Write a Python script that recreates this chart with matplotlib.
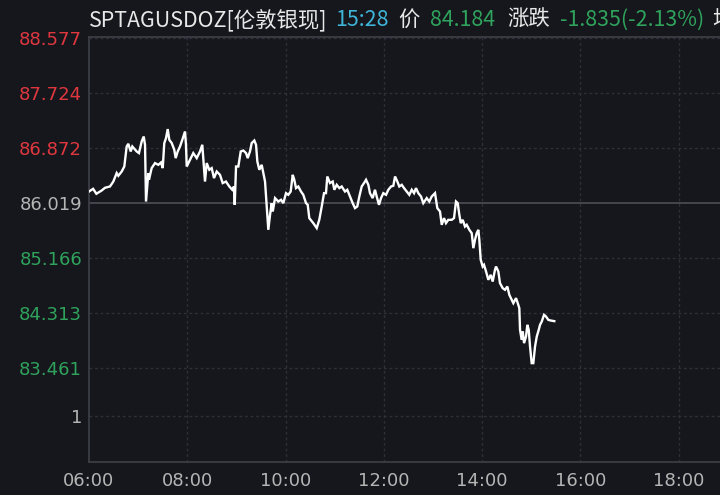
import matplotlib
matplotlib.use("Agg")
import matplotlib.pyplot as plt

plt.rcParams['font.family'] = ['DejaVu Sans', 'Noto Sans CJK SC']

# ---------------- data ----------------
# minutes after 06:00, price
minutes = [0, 5, 9, 15.5, 19.5, 25.6, 29.7, 33.8, 35.8, 39.9, 43.1, 46.0, 48.0, 50.9, 52.9,
           58.2, 61.0, 64.3, 66.8, 68.4, 69.6, 72.4, 73.2, 76.5, 80.6, 84.6, 87.9, 90.0, 91.9,
           94.0, 96.1, 98.0, 101.0, 104.1, 105.8, 108.3, 111.1, 113.9, 117.2, 118.4, 119.3,
           123.3, 127.3, 131.5, 135.5, 138.3, 141.6, 143.7, 146.9, 149.8, 152.6, 155.9, 159.9,
           163.2, 167.2, 171.3, 174.9, 177.0, 177.9, 179.5, 182.3, 185.2, 188.4, 191.7, 193.7,
           196.5, 198.6, 201.8, 203.9, 205.5, 207.9, 210.8, 212.8, 214.9, 216.1, 217.7, 218.9,
           221.0, 223.0, 224.3, 227.1, 231.1, 234.4, 237.2, 240.5, 243.3, 246.2, 248.7, 250.6,
           252.7, 255.5, 258.8, 261.6, 264.9, 267.0, 268.9, 273.8, 278.0, 281.1, 284.1, 286.9,
           289.3, 290.9, 294.2, 297.5, 299.5, 302.4, 305.6, 308.5, 312.5, 315.3, 318.6, 321.9,
           324.7, 327.5, 330.0, 332.9, 335.7, 338.2, 341.0, 343.0, 346.3, 349.1, 351.2, 354.0,
           356.5, 359.3, 362.6, 365.4, 368.7, 371.5, 373.6, 376.4, 378.8, 381.8, 384.6, 387.9,
           391.0, 394.0, 396.8, 399.2, 402.0, 405.3, 408.1, 412.3, 415.4, 418.4, 422.4, 425.2,
           428.5, 430.6, 433.4, 435.8, 438.6, 442.8, 445.6, 448.0, 450.1, 452.1, 453.8, 456.2,
           459.0, 461.1, 464.3, 467.2, 469.2, 471.2, 473.3, 475.3, 476.5, 478.2, 480.6, 482.2,
           484.7, 487.5, 490.4, 492.8, 495.6, 496.9, 499.7, 501.7, 505.0, 507.8, 510.7, 513.1,
           516.0, 518.0, 521.3, 523.4, 525.3, 526.2, 528.2, 529.5, 531.1, 533.5, 535.1, 536.8,
           538.4, 540.4, 542.4, 544.5, 546.6, 549.0, 550.6, 552.7, 555.5, 557.9, 560.7, 563.6,
           568.0]
prices = [86.194, 86.236, 86.159, 86.210, 86.252, 86.272, 86.349, 86.480, 86.438, 86.504,
          86.582, 86.892, 86.934, 86.815, 86.892, 86.815, 86.790, 86.970, 87.047, 86.919,
          86.039, 86.480, 86.376, 86.557, 86.635, 86.608, 86.644, 86.557, 86.945, 87.022,
          87.162, 86.996, 86.945, 86.841, 86.712, 86.815, 86.892, 86.996, 87.125, 86.919,
          86.582, 86.686, 86.790, 86.712, 86.815, 86.919, 86.349, 86.635, 86.531, 86.557,
          86.402, 86.504, 86.453, 86.325, 86.349, 86.272, 86.221, 86.272, 85.988, 86.582,
          86.582, 86.815, 86.830, 86.790, 86.712, 86.815, 86.945, 86.985, 86.919, 86.660,
          86.531, 86.608, 86.480, 86.349, 86.117, 85.833, 85.600, 85.833, 86.014, 85.884,
          86.092, 86.039, 86.066, 86.014, 86.169, 86.143, 86.194, 86.453, 86.376, 86.247,
          86.272, 86.194, 86.143, 86.014, 85.988, 85.782, 85.704, 85.627, 85.755, 85.962,
          86.169, 86.169, 86.427, 86.325, 86.349, 86.221, 86.298, 86.247, 86.272, 86.194,
          86.221, 86.117, 86.014, 85.937, 85.962, 86.117, 86.272, 86.325, 86.376, 86.298,
          86.169, 86.092, 86.221, 86.117, 85.988, 86.092, 86.169, 86.143, 86.221, 86.272,
          86.283, 86.427, 86.349, 86.272, 86.298, 86.247, 86.194, 86.143, 86.221, 86.169,
          86.247, 86.169, 86.117, 86.014, 86.092, 86.039, 86.117, 86.169, 85.937, 85.884,
          85.678, 85.782, 85.704, 85.755, 85.755, 85.782, 86.039, 86.014, 85.833, 85.704,
          85.755, 85.651, 85.678, 85.600, 85.549, 85.316, 85.445, 85.549, 85.600, 85.445,
          85.135, 85.031, 85.057, 84.954, 84.825, 84.902, 84.798, 84.980, 85.031, 84.954,
          84.774, 84.696, 84.670, 84.721, 84.592, 84.515, 84.463, 84.541, 84.463, 84.386,
          84.049, 83.894, 84.023, 83.843, 83.945, 84.127, 84.049, 83.790, 83.533, 83.533,
          83.790, 83.945, 84.049, 84.127, 84.178, 84.282, 84.256, 84.204, 84.194, 84.184]

prev_close = 86.019
ytick_values = [88.577, 87.724, 86.872, 86.019, 85.166, 84.313, 83.461, 82.716]
ytick_labels = ["88.577", "87.724", "86.872", "86.019", "85.166", "84.313", "83.461", "1"]
xtick_minutes = [0, 120, 240, 360, 480, 600, 720]
xtick_labels = ["06:00", "08:00", "10:00", "12:00", "14:00", "16:00", "18:00"]

title_parts = [("SPTAGUSDOZ[伦敦银现]", "#e8e8e8"), ("15:28", "#3fb4d8"), ("价", "#e8e8e8"),
               ("84.184", "#2fa35c"), ("涨跌", "#e8e8e8"), ("-1.835(-2.13%)", "#2fa35c"),
               ("均", "#e8e8e8")]
title_x_px = [89, 335, 398, 430, 507, 560, 712]

# ---------------- style ----------------
BG = "#15171c"
GRID = "#2d3038"
SPINE = "#3d4047"
RED = "#e0373f"
GREEN = "#2fa35c"
GREY = "#b5b5b5"

W, H = 720, 495
fig = plt.figure(figsize=(W / 100, H / 100), dpi=100, facecolor=BG)
ax = fig.add_axes([89 / W, (H - 462) / H, (W - 89) / W, (462 - 37) / H], facecolor=BG)

ax.set_xlim(0, 770.3)
ax.set_ylim(82.0, 88.59)

# grid
for v in ytick_values:
    if v == prev_close:
        ax.axhline(v, color="#474a52", lw=1.3, zorder=1)
    else:
        ax.axhline(v, color=GRID, lw=1.0, ls=(0, (2, 2)), zorder=1)
for m in xtick_minutes[1:]:
    ax.axvline(m, color=GRID, lw=1.0, ls=(0, (2, 2)), zorder=1)

ax.plot(minutes, prices, color="white", lw=1.7, zorder=3, solid_joinstyle="miter")

for s in ["left", "bottom", "top"]:
    ax.spines[s].set_color(SPINE)
    ax.spines[s].set_linewidth(1.2)
ax.spines["right"].set_visible(False)

ax.set_yticks(ytick_values)
ax.set_yticklabels(ytick_labels)
for lab, v in zip(ax.get_yticklabels(), ytick_values):
    if lab.get_text() == "1" or v == prev_close:
        lab.set_color(GREY)
    elif v > prev_close:
        lab.set_color(RED)
    else:
        lab.set_color(GREEN)
ax.set_xticks(xtick_minutes)
ax.set_xticklabels(xtick_labels, color=GREY)
ax.tick_params(axis="both", length=0, labelsize=13)
ax.tick_params(axis="y", pad=5)
ax.tick_params(axis="x", pad=7)

for (txt, col), xp in zip(title_parts, title_x_px):
    fig.text(xp / W, 1 - 20 / H, txt, color=col, fontsize=15.4, va="center", ha="left",
             family=['Noto Sans CJK SC', 'DejaVu Sans'])

fig.savefig("out.png", dpi=100, facecolor=BG)
